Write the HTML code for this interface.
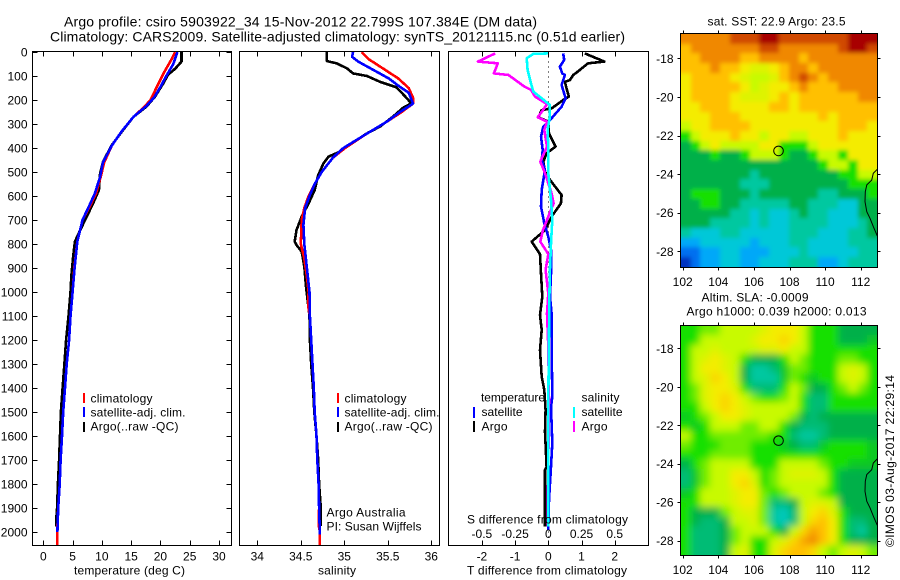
<!DOCTYPE html>
<html>
<head>
<meta charset="utf-8">
<title>Argo profile</title>
<style>
html,body{margin:0;padding:0;background:#fff;}
svg{display:block;}
text{font-family:"Liberation Sans",sans-serif;font-size:12px;fill:#000;}
</style>
</head>
<body>
<svg id="chart" xmlns="http://www.w3.org/2000/svg" width="900" height="580" viewBox="0 0 900 580">
<defs>
<filter id="sst-smooth" filterUnits="userSpaceOnUse" x="640" y="0" width="260" height="300"><feGaussianBlur stdDeviation="2.2"/></filter>
<filter id="sla-smooth" filterUnits="userSpaceOnUse" x="640" y="290" width="260" height="290"><feGaussianBlur stdDeviation="3.6"/></filter>
<clipPath id="sst-clip"><rect x="680.5" y="34" width="197" height="233"/></clipPath>
<clipPath id="sla-clip"><rect x="680.5" y="326" width="197" height="229"/></clipPath>
</defs>
<rect x="0" y="0" width="900" height="580" fill="#fff"/>
<text x="64" y="26.5" style="font-size:14px" textLength="473" lengthAdjust="spacing">Argo profile: csiro 5903922_34 15-Nov-2012 22.799S 107.384E (DM data)</text>
<text x="50" y="41.5" style="font-size:14px" textLength="575" lengthAdjust="spacing">Climatology: CARS2009. Satellite-adjusted climatology: synTS_20121115.nc (0.51d earlier)</text>
<g id="plots"></g>
<g id="labels">
<text x="74" y="574.5" textLength="111" lengthAdjust="spacing">temperature (deg C)</text>
<text x="318" y="574.5" textLength="38" lengthAdjust="spacing">salinity</text>
<text x="467" y="574.5" textLength="160" lengthAdjust="spacing">T difference from climatology</text>
<text x="467" y="523.5" textLength="161" lengthAdjust="spacing">S difference from climatology</text>

<rect x="83" y="393" width="2" height="10" fill="#f00"/>
<rect x="83" y="407" width="2" height="10" fill="#00f"/>
<rect x="83" y="422" width="2" height="10" fill="#000"/>
<text x="90.5" y="402.5" textLength="62" lengthAdjust="spacing">climatology</text>
<text x="90.5" y="416.5" textLength="95" lengthAdjust="spacing">satellite-adj. clim.</text>
<text x="90.5" y="430.5" textLength="88" lengthAdjust="spacing">Argo(..raw -QC)</text>

<rect x="337" y="393" width="2" height="10" fill="#f00"/>
<rect x="337" y="407" width="2" height="10" fill="#00f"/>
<rect x="337" y="422" width="2" height="10" fill="#000"/>
<text x="344.5" y="402.5" textLength="62" lengthAdjust="spacing">climatology</text>
<text x="344.5" y="416.5" textLength="95" lengthAdjust="spacing">satellite-adj. clim.</text>
<text x="344.5" y="430.5" textLength="88" lengthAdjust="spacing">Argo(..raw -QC)</text>
<text x="326.5" y="516.5" textLength="79" lengthAdjust="spacing">Argo Australia</text>
<text x="326.5" y="530.5" textLength="95" lengthAdjust="spacing">PI: Susan Wijffels</text>

<text x="481" y="401.5" textLength="64" lengthAdjust="spacing">temperature</text>
<rect x="473" y="407" width="2" height="11" fill="#00f"/>
<rect x="473" y="421" width="2" height="11" fill="#000"/>
<text x="481.5" y="416" textLength="41" lengthAdjust="spacing">satellite</text>
<text x="481.5" y="430.5" textLength="26" lengthAdjust="spacing">Argo</text>
<text x="581.5" y="401.5" textLength="38" lengthAdjust="spacing">salinity</text>
<rect x="573" y="407" width="2" height="11" fill="#0ff"/>
<rect x="573" y="421" width="2" height="11" fill="#f0f"/>
<text x="581.5" y="416" textLength="41" lengthAdjust="spacing">satellite</text>
<text x="581.5" y="430.5" textLength="26" lengthAdjust="spacing">Argo</text>

<text x="707.5" y="25.5" textLength="138" lengthAdjust="spacing">sat. SST: 22.9  Argo: 23.5</text>
<text x="701.5" y="301.5" textLength="107" lengthAdjust="spacing">Altim. SLA: -0.0009</text>
<text x="686.5" y="315.5" textLength="180" lengthAdjust="spacing">Argo h1000: 0.039 h2000: 0.013</text>
<text transform="translate(894,547) rotate(-90)" textLength="172" lengthAdjust="spacing">©IMOS 03-Aug-2017 22:29:14</text>
</g>
</svg>
<script>
// ---------- tick labels ----------
var depthTicks = [0,100,200,300,400,500,600,700,800,900,1000,1100,1200,1300,1400,1500,1600,1700,1800,1900,2000];
var tempTicks = [0,5,10,15,20,25,30];
var salTicks = [34,34.5,35,35.5,36];
var tDiffTicks = [-2,-1,0,1,2];
var sDiffTicks = [-0.5,-0.25,0,0.25,0.5];
var lonTicks = [102,104,106,108,110,112];
var latTicks = [-18,-20,-22,-24,-26,-28];

// ---------- temperature profiles ----------
var tempArgoDepth = [0,40,70,95,130,185,228,270,332,388,457,506,575,615,672,742,790,850,930,1000,1100,1200,1300,1400,1500,1600,1700,1800,1900,1950,1978];
var tempArgoValue = [23.6,23.6,22.5,21.3,20.5,19.1,17.6,15.4,13.4,11.7,10.2,9.7,9.5,8.8,7.7,6.3,5.4,5.1,4.8,4.65,4.3,3.9,3.6,3.3,3.0,2.85,2.7,2.5,2.35,2.2,2.2];
var tempClimDepth = [0,30,90,150,200,230,270,330,390,460,520,590,640,700,790,900,1000,1100,1200,1300,1400,1500,1600,1700,1800,1900,1980,2058];
var tempClimValue = [22.5,21.9,20.5,19.3,18.3,17.2,15.4,13.4,11.7,10.4,9.8,9.0,8.0,6.7,5.8,5.3,5.0,4.65,4.4,4.0,3.7,3.4,3.2,2.95,2.8,2.55,2.4,2.4];
var tempSatDepth = [0,50,100,150,190,225,270,330,390,460,520,590,640,700,790,900,1000,1100,1200,1300,1400,1500,1600,1700,1800,1900,2000];
var tempSatValue = [22.9,22.2,21.0,19.9,18.9,17.6,15.4,13.4,11.7,10.2,9.7,8.8,7.85,6.7,5.8,5.35,5.0,4.65,4.4,4.0,3.7,3.4,3.2,2.95,2.8,2.55,2.4];

// ---------- salinity profiles ----------
var salArgoDepth = [0,38,47,68,89,100,124,147,193,214,231,269,311,339,367,415,436,464,513,575,631,686,742,790,804,832,894,978,1100,1200,1300,1400,1500,1600,1700,1800,1900,1975];
var salArgoValue = [34.80,34.80,34.91,35.03,35.10,35.26,35.41,35.60,35.72,35.77,35.68,35.56,35.41,35.26,35.14,34.95,34.82,34.76,34.70,34.66,34.59,34.51,34.45,34.43,34.45,34.51,34.54,34.56,34.60,34.605,34.62,34.64,34.655,34.68,34.70,34.71,34.73,34.73];
var salClimDepth = [0,30,70,110,150,190,215,250,290,340,400,440,500,550,600,650,700,800,860,950,1000,1060,1100,1200,1300,1400,1500,1600,1700,1800,1900,1970,2000,2058];
var salClimValue = [35.20,35.28,35.45,35.62,35.74,35.79,35.79,35.66,35.49,35.26,35.01,34.87,34.74,34.66,34.59,34.54,34.51,34.50,34.54,34.575,34.59,34.585,34.605,34.62,34.635,34.65,34.66,34.68,34.69,34.705,34.71,34.705,34.72,34.72];
var salSatDepth = [0,20,40,70,110,140,170,215,250,290,340,400,440,500,550,600,650,720,800,900,1000,1100,1200,1300,1400,1500,1600,1700,1800,1900,2010];
var salSatValue = [35.10,35.09,35.16,35.31,35.51,35.62,35.74,35.79,35.64,35.49,35.26,34.99,34.87,34.74,34.66,34.60,34.55,34.53,34.54,34.57,34.60,34.605,34.62,34.635,34.65,34.66,34.68,34.69,34.705,34.71,34.72];

// ---------- difference profiles ----------
var dTempArgoDepth = [6,40,47,86,96,117,124,152,186,200,235,242,272,290,339,394,422,457,499,533,596,631,686,742,790,842,922,1019,1096,1158,1242,1353,1408,1492,1582,1728,1742,1978];
var dTempArgoValue = [1.10,1.69,1.20,0.85,0.75,0.65,0.50,0.55,0.62,0.45,0.10,-0.20,-0.30,0,0.02,0.22,-0.05,-0.15,-0.10,0.05,0.40,0.38,0.10,-0.10,-0.50,-0.25,-0.22,-0.18,-0.25,-0.20,-0.25,-0.20,-0.12,-0.08,-0.10,-0.05,-0.10,-0.10];
var dTempSatDepth = [6,33,61,89,96,137,193,228,276,311,353,408,450,492,575,644,714,769,825,922,1019,1089,1228,1436,1478,1631,1728,1867,1992];
var dTempSatValue = [0.45,0.48,0.35,0.42,0.50,0.40,0.52,0.40,0.10,-0.15,-0.22,-0.17,-0.20,-0.10,-0.20,-0.22,-0.12,0,0.08,0.08,0.05,0.10,0.10,0.12,0.08,0.12,0.08,0.02,0];
var dSalArgoDepth = [6,40,47,89,96,124,144,158,186,217,242,272,290,325,394,457,505,589,631,686,742,790,842,908,1006,1089,1228,1450,1978];
var dSalArgoValue = [-0.40,-0.53,-0.38,-0.41,-0.30,-0.23,-0.18,-0.13,-0.10,-0.01,-0.04,-0.08,-0.01,-0.03,-0.01,-0.06,-0.025,0.025,0.04,0,-0.04,-0.06,0,-0.02,0,-0.01,0,0.005,-0.005];
var dSalSatDepth = [6,8,26,75,131,165,193,221,269,325,394,505,617,700,797,908,1019,1172,1450,1728,1978];
var dSalSatValue = [0,-0.113,-0.163,-0.156,-0.13,-0.113,-0.05,0.012,0.012,-0.005,0,0,0.02,0.03,0.02,0.012,0.008,0.005,0,0,0];

// ---------- map data (colour-level grids, north to south) ----------
var sstGrid = [
[10,10,10,10,10,11,11,11,12,12,11,11,11,11,11,11,11,12,12,12],
[9,10,10,10,10,10,10,10,11,11,10,10,10,10,10,10,11,12,12,11],
[9,9,10,10,10,10,9,9,10,10,10,10,9,10,10,10,10,10,10,10],
[9,9,9,10,9,9,8,7.5,7.5,8,9,10,10,9,10,10,10,10,10,10],
[8,9,9,9,9,8,7.5,7,7,7.5,9,10,11,10,9,10,10,10,10,10],
[8,9,9,9,9,9,8,7,7.5,8,8,9,10,9,9,9,10,10,10,10],
[8,9,9,9,9,8,7.5,7.5,7.5,8,9,8,9,9,9,9,9,9,10,10],
[8,8,9,9,9,8,8,8,8,9,9,8,9,9,9,9,9,9,9,9],
[8,8,8,9,9,9,8,8,8,8,8,8,8,8,9,8,9,9,9,9],
[7,8,8,9,9,9,9,8,8,8,8,8,8,8,8,8,9,9,9,8],
[6,7,8,8,8,9,8,8,7,8,8,7,7,8,8,8,9,8,8,8],
[5,6,7,8,7,7,7,7,8,8,6,6,6,7,8,8,8,8,8,8],
[5,5,5,6,5,5,6,7,7,7,6,5,5,6,7,7,6,8,8,8],
[5,5,5,5,5,5,5,5,5,5,5,5,5,5,6,7,7,6,8,8],
[5,5,5,5,5,5,5,4,5,5,5,5,5,5,5,5,6,6,7,7],
[5,5,5,5,5,5,4,4,4,5,5,5,5,5,5,5,5,6,6,6],
[5,6,6,6,5,5,5,4,5,5,5,5,5,5,4,4,5,5,5,6],
[5,5,6,6,5,5,4,4,4,4,4,5,5,4,4,4,3,3,5,5],
[5,5,5,5,5,4,4,3,4,3,3,4,5,4,4,3,3,3,5,5],
[5,5,5,4,4,4,4,3,4,3,3,4,4,4,4,3,3,3,4,5],
[4,3,3,3,4,4,3,3,3,3,3,4,4,4,3,3,3,4,4,5],
[2,2,3,3,3,3,3,2,3,3,3,4,4,3,3,3,3,4,4,4],
[1,1,2,2,3,3,2,2,2,3,3,3,4,3,3,3,3,3,4,4],
[0,1,2,2,3,3,2,2,3,3,3,4,4,4,2,2,3,4,4,4]
];
var slaGrid = [
[6,6,6.5,6.5,7,7,7,7,7.5,8,8,8,7,6,6,6,5,5,5,5],
[6,6,7,7,7,7,7,7.5,8,8,8.5,8,7,6,6,6,5,5,5,5.5],
[6,7,7,7.5,7,7,7,7,7.5,7.5,8,7,7,6,6,6,6,6,6,6],
[6,7,7.5,8,7.5,7,6,5,5,5,6,7,6.5,6,6,6,6.5,6.5,6,6],
[6,7,8,8,7.5,7,5,4,4,4.5,5.5,6.5,6.5,6,6,6,7,7.5,7,6],
[6,7,7.5,8.5,8,7,5,4,4,4,5.5,6.5,6,5.5,6,6,7,7.5,7,6],
[6,6.5,7.5,8,8,7.5,6,4.5,4.5,4.5,6,7,6.5,5,5,6,6.5,7,6.5,6],
[6,6.5,7.5,8,8.5,8,7,6.5,6,6,6.5,7,6,4.5,4.5,6,6,6,6,6],
[6,6,7,8,8.5,8,7.5,7,7,7,7,7,6,4.5,4.5,6,6,6,6,6],
[5.5,6,6.5,7,8,8,7.5,7,7,7,7,6.5,5,4.5,5,5,5,5,5,5],
[6,5.5,6,7,7,7,6.5,6.5,7,7,6,5,4.5,4.5,4.5,5,5,5,5,5],
[7,6,6,6.5,6.5,6.5,6.5,6.5,6.5,6,6,4.5,4,4,4.5,5,5,5,5,5],
[6.5,6,6,6,6.5,6.5,6.5,6,6,6,5.5,5,4.5,4.5,5.5,6,6,6,6,5.5],
[6,6,6,6.5,6.5,6.5,6.5,6,6,6,6,6,6,6,6,6,6,6,6,5.5],
[5,6,6.5,7,7,7,7,6,6,6,7,7,7,7,6.5,6,6,5.5,5.5,5.5],
[4.5,5.5,6.5,7,7,8,8,7,6,6.5,7,7.5,7.5,7.5,7,6,5,5,5,5],
[4.5,5.5,6.5,7,7,8,8.5,7.5,6,6.5,7,7,7,7,7,6,5,5,5,5],
[5.5,6,7,7,7,7.5,8,8,6.5,6,6.5,7,7,7,6.5,6,5,5,5,5],
[6,6,7,7,7,7.5,8,8,6.5,4.5,4.5,5,7,7.5,7.5,7,5,5,5,5],
[6,5,5,5,6.5,7,7.5,7.5,6.5,4,3.5,4.5,7,8,8.5,7.5,6,5,5,5],
[6,5,4.5,4.5,5,7,7,7.5,6.5,4,3.5,4.5,7,8.5,9,8,6,4.5,4.5,5],
[6,4.5,4.5,4.5,5,6.5,7,7,7,6,5,7,8.5,9.5,9,8,6,4.5,4,5],
[6,4.5,4.5,4.5,5,6.5,7,6,6,7,7.5,8.5,9.5,10,9,8,6,5,5,5],
[6,4.5,4.5,4.5,5,7,7.5,6,6,7.5,8.5,9,9,8.5,7,6.5,7,7.5,7,6.5]
];
var coastLon = [112.93,112.71,112.62,112.34,112.26,112.24,112.34,112.52,112.71,112.93];
var coastLat = [-23.75,-23.96,-24.31,-24.56,-24.91,-25.43,-25.95,-26.29,-26.72,-27.2];
var profileLon = [107.384];
var profileLat = [-22.799];

// ---------- drawing ----------
var NS = 'http://www.w3.org/2000/svg';
var plots = document.getElementById('plots');
function make(tag, attrs, parent, txt) {
  var e = document.createElementNS(NS, tag);
  for (var k in attrs) e.setAttribute(k, attrs[k]);
  if (txt !== undefined) e.textContent = txt;
  (parent || plots).appendChild(e);
  return e;
}
function depthY(d) { return 52 + d * 0.24; }
function linear(v0, p0, v1, p1) { return function (v) { return p0 + (v - v0) * (p1 - p0) / (v1 - v0); }; }
var PLOT_TOP = 51.5, PLOT_BOTTOM = 545.5;

function frame(x0, x1, y0, y1, name) {
  var r = make('rect', {x: x0, y: y0, width: x1 - x0, height: y1 - y0, fill: 'none', stroke: '#000', 'stroke-width': 1, 'shape-rendering': 'crispEdges'});
  
  
  return r;
}
function tick(x1, y1, x2, y2, name) {
  var l = make('line', {x1: x1, y1: y1, x2: x2, y2: y2, stroke: '#000', 'stroke-width': 1, 'shape-rendering': 'crispEdges'});
  
  
}
function label(x, y, anchor, str, name) {
  var t = make('text', {x: x, y: y, 'text-anchor': anchor}, plots, str);
  
  
}
function profile(depths, values, xFn, color, name) {
  var pts = depths.map(function (d, i) { return xFn(values[i]).toFixed(1) + ',' + depthY(d).toFixed(1); }).join(' ');
  var p = make('polyline', {points: pts, fill: 'none', stroke: color, 'stroke-width': 2.6, 'stroke-linejoin': 'round', 'shape-rendering': 'crispEdges'});
  
  
}
function fmt(v) { return String(v); }

// temperature panel
var tempX = linear(0, 43.3, 30, 219);
profile(tempArgoDepth, tempArgoValue, tempX, '#000', 'temperature-argo-line');
profile(tempClimDepth, tempClimValue, tempX, '#f00', 'temperature-climatology-line');
profile(tempSatDepth, tempSatValue, tempX, '#00f', 'temperature-satellite-line');
frame(32.5, 231.5, PLOT_TOP, PLOT_BOTTOM, 'temperature-panel-frame');
depthTicks.forEach(function (d) {
  var y = Math.round(depthY(d)) + 0.5;
  tick(32.5, y, 37.5, y, 'depth-tick-left');
  tick(226.5, y, 231.5, y, 'depth-tick-right');
  label(27.5, depthY(d) + 4.5, 'end', fmt(d), 'depth-tick-label');
});
tempTicks.forEach(function (v) {
  var x = Math.round(tempX(v)) + 0.5;
  tick(x, PLOT_TOP, x, PLOT_TOP + 5, 'temperature-tick-top');
  tick(x, PLOT_BOTTOM - 5, x, PLOT_BOTTOM, 'temperature-tick-bottom');
  label(tempX(v), 560.5, 'middle', fmt(v), 'temperature-tick-label');
});

// salinity panel
var salX = linear(34, 257.3, 36, 431.3);
profile(salArgoDepth, salArgoValue, salX, '#000', 'salinity-argo-line');
profile(salClimDepth, salClimValue, salX, '#f00', 'salinity-climatology-line');
profile(salSatDepth, salSatValue, salX, '#00f', 'salinity-satellite-line');
frame(239.5, 439.5, PLOT_TOP, PLOT_BOTTOM, 'salinity-panel-frame');
salTicks.forEach(function (v) {
  var x = Math.round(salX(v)) + 0.5;
  tick(x, PLOT_TOP, x, PLOT_TOP + 5, 'salinity-tick-top');
  tick(x, PLOT_BOTTOM - 5, x, PLOT_BOTTOM, 'salinity-tick-bottom');
  label(salX(v), 560.5, 'middle', fmt(v), 'salinity-tick-label');
});

// difference panel
var tDiffX = linear(0, 548.3, 2, 614.7);
var sDiffX = linear(0, 548.3, 0.5, 614.7);
var zero = make('line', {x1: 548.5, y1: PLOT_TOP, x2: 548.5, y2: PLOT_BOTTOM, stroke: '#000', 'stroke-width': 1, 'stroke-dasharray': '1 4', 'shape-rendering': 'crispEdges'});


profile(dTempArgoDepth, dTempArgoValue, tDiffX, '#000', 't-difference-argo-line');
profile(dTempSatDepth, dTempSatValue, tDiffX, '#00f', 't-difference-satellite-line');
profile(dSalArgoDepth, dSalArgoValue, sDiffX, '#f0f', 's-difference-argo-line');
profile(dSalSatDepth, dSalSatValue, sDiffX, '#0ff', 's-difference-satellite-line');
frame(448.5, 648.5, PLOT_TOP, PLOT_BOTTOM, 'difference-panel-frame');
tDiffTicks.forEach(function (v) {
  var x = Math.round(tDiffX(v)) + 0.5;
  tick(x, PLOT_TOP, x, PLOT_TOP + 5, 'difference-tick-top');
  tick(x, PLOT_BOTTOM - 5, x, PLOT_BOTTOM, 'difference-tick-bottom');
  label(tDiffX(v), 560.5, 'middle', fmt(v), 't-difference-tick-label');
});
sDiffTicks.forEach(function (v) {
  label(sDiffX(v), 538, 'middle', fmt(v), 's-difference-tick-label');
});

// maps
var levelColors = [[0,48,192],[0,112,240],[0,168,248],[0,200,216],[0,200,160],[0,176,72],[24,224,0],[200,250,0],[244,236,0],[255,192,0],[240,136,0],[208,72,0],[168,0,0]];
function levelColor(v) {
  var a = Math.max(0, Math.min(levelColors.length - 1, v));
  var i = Math.min(levelColors.length - 2, Math.floor(a));
  var f = a - i, c0 = levelColors[i], c1 = levelColors[i + 1];
  return 'rgb(' + Math.round(c0[0] + (c1[0] - c0[0]) * f) + ',' + Math.round(c0[1] + (c1[1] - c0[1]) * f) + ',' + Math.round(c0[2] + (c1[2] - c0[2]) * f) + ')';
}
function drawMap(grid, top, bottom, lat18Y, lat28Y, prefix) {
  var left = 680.7, right = 877.3;
  var lonX = linear(102, 682.7, 112, 860.7);
  var latY = linear(-18, lat18Y, -28, lat28Y);
  var nRow = grid.length, nCol = grid[0].length;
  var cw = (right - left) / nCol, ch = (bottom - top) / nRow;
  var clipGroup = make('g', {'clip-path': 'url(#' + prefix + '-clip)'});
  
  
  var blurGroup = make('g', {filter: 'url(#' + prefix + '-smooth)'}, clipGroup);
  
  
  var bleed = 16;
  grid.forEach(function (row, r) {
    row.forEach(function (v, c) {
      var x0 = Math.round(left + c * cw) - (c === 0 ? bleed : 0);
      var x1 = Math.round(left + (c + 1) * cw) + (c === nCol - 1 ? bleed : 0);
      var y0 = Math.round(top + r * ch) - (r === 0 ? bleed : 0);
      var y1 = Math.round(top + (r + 1) * ch) + (r === nRow - 1 ? bleed : 0);
      var cell = make('rect', {x: x0, y: y0, width: x1 - x0, height: y1 - y0, fill: levelColor(v), 'shape-rendering': 'crispEdges'}, blurGroup);
      
      
    });
  });
  var coast = make('polyline', {points: coastLon.map(function (lon, i) { return lonX(lon).toFixed(1) + ',' + latY(coastLat[i]).toFixed(1); }).join(' '), fill: 'none', stroke: '#000', 'stroke-width': 1});
  
  
  var marker = make('circle', {cx: lonX(profileLon[0]), cy: latY(profileLat[0]), r: 4.8, fill: 'none', stroke: '#000', 'stroke-width': 1});
  
  
  frame(680.5, 877.5, Math.round(top) - 0.5, Math.round(bottom) + 0.5, prefix + '-map-frame');
  lonTicks.forEach(function (lon) {
    var x = Math.round(lonX(lon)) + 0.5;
    tick(x, Math.round(top) - 3.5, x, Math.round(top) - 0.5, prefix + '-lon-tick-top');
    tick(x, Math.round(bottom) + 0.5, x, Math.round(bottom) + 3.5, prefix + '-lon-tick-bottom');
    label(lonX(lon), Math.round(bottom) + 19, 'middle', fmt(lon), prefix + '-lon-tick-label');
  });
  latTicks.forEach(function (lat) {
    var y = Math.round(latY(lat)) + 0.5;
    tick(677.5, y, 680.5, y, prefix + '-lat-tick-left');
    tick(877.5, y, 880.5, y, prefix + '-lat-tick-right');
    label(673.5, latY(lat) + 4.5, 'end', fmt(lat), prefix + '-lat-tick-label');
  });
}
drawMap(sstGrid, 34, 266.7, 58.3, 251.3, 'sst');
drawMap(slaGrid, 325.7, 555, 348.3, 540.7, 'sla');
</script>
</body>
</html>
